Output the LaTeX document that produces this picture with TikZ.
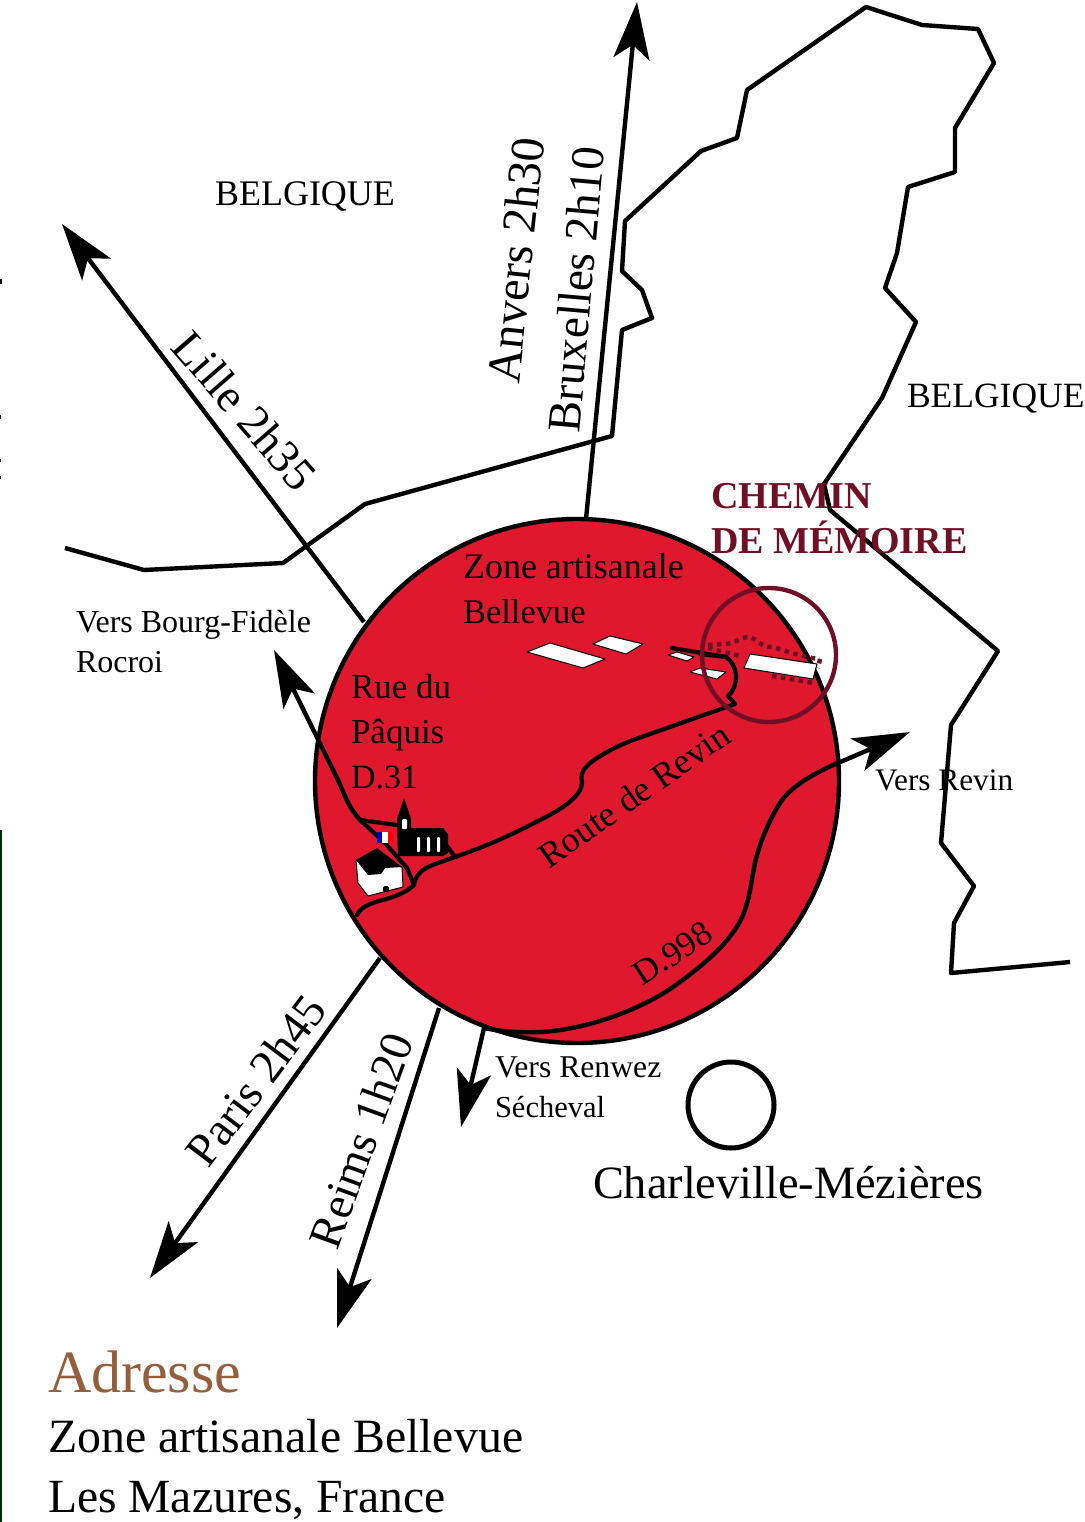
\documentclass[tikz,border=0pt]{standalone}
\usepackage{fontspec}
\setmainfont{Liberation Serif}
\usetikzlibrary{arrows.meta}
\definecolor{disc}{HTML}{E0182E}
\definecolor{wine}{HTML}{6F1026}
\definecolor{brownish}{HTML}{935F3C}
\newcommand{\fs}[1]{\fontsize{#1}{#1}\selectfont}
\tikzset{
  line/.style={draw=black,line width=4.4pt,line join=round},
  road/.style={draw=black,line width=4.2pt,line join=round,line cap=round},
  bigarrow/.style={line,-{Stealth[length=57pt,width=36pt,inset=14pt]}},
  midarrow/.style={line,-{Stealth[length=57pt,width=35pt,inset=14pt]}},
  lab/.style={anchor=base west,inner sep=0pt,outer sep=0pt,text=black},
  rot/.style={anchor=base,inner sep=0pt,outer sep=0pt,text=black},
  plot-w/.style={fill=white,draw=black,line width=1pt,line join=round},
  trail/.style={draw=wine,line width=4.5pt,dash pattern=on 4.5pt off 4.5pt},
}
\begin{document}
\begin{tikzpicture}[x=1pt,y=-1pt]
\useasboundingbox (0,0) rectangle (1084,1522);
\fill[white] (0,0) rectangle (1084,1522);
% stray edge of the source image
\fill[black!70!green!60!black] (0,830) rectangle (1.5,1522);
\fill[black] (0,279) rectangle (1.5,284);
\fill[black] (0,415) rectangle (1,419);
\fill[black] (0,459) rectangle (1,462);
\fill[black] (0,476) rectangle (1,479);

% frontier
\draw[line] (65,548) -- (144,570) -- (283,563) -- (365,504) -- (612,436) -- (622,330) -- (652,318) -- (642,290) -- (622,271) -- (625,221) -- (701,151) -- (737,138) -- (747,90) -- (866,7) -- (922,25) -- (978,29) -- (994,63) -- (955,128) -- (955,172) -- (908,187) -- (897,253) -- (885,288) -- (916,322) -- (882,398) -- (824,484) -- (830,510) -- (998,651) -- (951,725) -- (941,843) -- (974,886) -- (954,923) -- (951,973) -- (1070,962);

% disc
\node[circle,fill=disc,draw=black,line width=4.4pt,minimum size=524pt,inner sep=0pt] (zone) at (577,781) {};

% end points of the routes
\coordinate (nTail) at (586,519);
\coordinate (nTip) at (637,2);
\coordinate (lTail) at (364,622);
\coordinate (lTip) at (62,224);
\coordinate (pTail) at (380,958);
\coordinate (pTip) at (150,1278);
\coordinate (rTail) at (439,1008);
\coordinate (rTip) at (337,1328);
\coordinate (sTail) at (484,1028);
\coordinate (sTip) at (461,1127);
\coordinate (bTip) at (274,650);
\coordinate (dTip) at (910,732);

\draw[bigarrow] (nTail) -- (nTip);
\draw[bigarrow] (lTail) -- (lTip);
\draw[bigarrow] (pTail) -- (pTip);
\draw[bigarrow] (rTail) -- (rTip);
\draw[midarrow] (sTail) -- (sTip);

% local roads
\draw[midarrow] (360,820) .. controls (347,805) and (345,795) .. (338,780) -- (bTip);
\draw[midarrow] (sTail) .. controls (498,1031) and (518,1033) .. (540,1032) .. controls (585,1030) and (640,1010) .. (673,987) .. controls (700,968) and (732,942) .. (743,915) .. controls (750,898) and (751,882) .. (755,863) .. controls (759,845) and (768,822) .. (780,803) .. controls (790,787) and (815,772) .. (845,760) -- (dTip);
\draw[road] (357,915) .. controls (365,898) and (395,903) .. (414,885) .. controls (417,868) and (430,866) .. (455,857) .. controls (490,845) and (515,833) .. (540,820) .. controls (560,810) and (582,797) .. (582,782) .. controls (580,772) and (585,768) .. (590,763) .. controls (605,752) and (620,745) .. (633,740) -- (735,704) -- (728,696) .. controls (740,685) and (738,665) .. (726,657) -- (672,648);
\draw[road] (360,820) -- (397,825);
\draw[road] (360,820) -- (385,843) -- (407,868) -- (414,885);
\draw[road] (447,846) -- (455,857);

% church
\fill[black] (404,798) -- (411,819) -- (411,828) -- (443,828) -- (448,834) -- (448,853) -- (443,856) -- (398,856) -- (397,819) -- cycle;
\fill[white,rounded corners=1pt] (402,819) rectangle (407,829);
\fill[white,rounded corners=1pt] (417,837) rectangle (420,852);
\fill[white,rounded corners=1pt] (427,837) rectangle (430,852);
\fill[white,rounded corners=1pt] (437,837) rectangle (440,852);

% house
\draw[plot-w] (356,860) -- (358,883) -- (368,896) -- (403,887) -- (402,867) -- cycle;
\fill[black] (356,860) -- (377,848) -- (402,867) -- (385,868) -- (381,874) -- (368,875) -- cycle;
\fill[black,rounded corners=1.5pt] (383,886) rectangle (389,892);

% flag
\fill[blue!75!black] (377,832) rectangle (382,843);
\fill[white] (382,832) rectangle (388,843);
\fill[red] (388,832) rectangle (393,843);

% plots
\draw[plot-w] (527,652) -- (550,643) -- (605,659) -- (583,668) -- cycle;
\draw[plot-w] (593,644) -- (610,636) -- (643,644) -- (626,654) -- cycle;
\draw[plot-w] (668,655) -- (677,652) -- (694,657) -- (687,661) -- cycle;
\draw[plot-w] (690,672) -- (700,668) -- (726,672) -- (717,679) -- cycle;
\draw[plot-w] (750,654) -- (817,664) -- (813,679) -- (744,668) -- cycle;
\draw[road] (700,654) -- (726,657);

% memorial trail
\draw[trail] (708,645) -- (722,644) .. controls (732,645) and (740,638) .. (747,637) .. controls (757,637) and (760,648) .. (772,647) .. controls (785,650) and (800,657) .. (820,659);
\draw[trail] (708,648) -- (740,656);
\draw[trail] (772,676) -- (814,683);
\draw[trail] (820,659) -- (818,668);
\node[circle,draw=wine,line width=4.4pt,minimum size=134pt,inner sep=0pt] (memo) at (769,655) {};

% labels
\node[lab,font=\fs{36}] (t1) at (215,206) {BELGIQUE};
\node[lab,font=\fs{35.5}] (t2) at (907,407) {BELGIQUE};
\node[lab,font=\fs{38}\bfseries,text=wine] (t3) at (711,508) {CHEMIN};
\node[lab,font=\fs{38}\bfseries,text=wine] (t4) at (711,553) {DE MÉMOIRE};
\node[lab,font=\fs{36}] (t5) at (463,578) {Zone artisanale};
\node[lab,font=\fs{34.5}] (t6) at (463,623) {Bellevue};
\node[lab,font=\fs{32}] (t7) at (76,632) {Vers Bourg-Fidèle};
\node[lab,font=\fs{32}] (t8) at (76,672) {Rocroi};
\node[lab,font=\fs{35}] (t9) at (351,698) {Rue du};
\node[lab,font=\fs{35}] (t10) at (351,743) {Pâquis};
\node[lab,font=\fs{34}] (t11) at (351,788) {D.31};
\node[lab,font=\fs{31.3}] (t12) at (875,790) {Vers Revin};
\node[lab,font=\fs{31.7}] (t13) at (495,1077) {Vers Renwez};
\node[lab,font=\fs{30.5}] (t14) at (495,1117) {Sécheval};
\node[lab,font=\fs{46.3}] (t15) at (593,1198) {Charleville-Mézières};
\node[lab,font=\fs{60},text=brownish] (t16) at (48,1392) {Adresse};
\node[lab,font=\fs{47.8}] (t17) at (48,1452) {Zone artisanale Bellevue};
\node[lab,font=\fs{47.6}] (t18) at (48,1512) {Les Mazures, France};

\node[rot,font=\fs{46.5},rotate=-49] (t19) at (233,421) {Lille 2h35};
\node[rot,font=\fs{48},rotate=84] (t20) at (532,262) {Anvers 2h30};
\node[rot,font=\fs{47},rotate=85] (t21) at (592,291) {Bruxelles 2h10};
\node[rot,font=\fs{47},rotate=53] (t22) at (269,1090) {Paris 2h45};
\node[rot,font=\fs{46.5},rotate=70] (t23) at (376,1146) {Reims 1h20};
\node[rot,font=\fs{36},rotate=35] (t24) at (641,805) {Route de Revin};
\node[rot,font=\fs{35},rotate=33] (t25) at (679,963) {D.998};

% town ring
\node[circle,draw=black,line width=5pt,minimum size=86pt,inner sep=0pt] (town) at (731,1105) {};
\end{tikzpicture}
\end{document}
